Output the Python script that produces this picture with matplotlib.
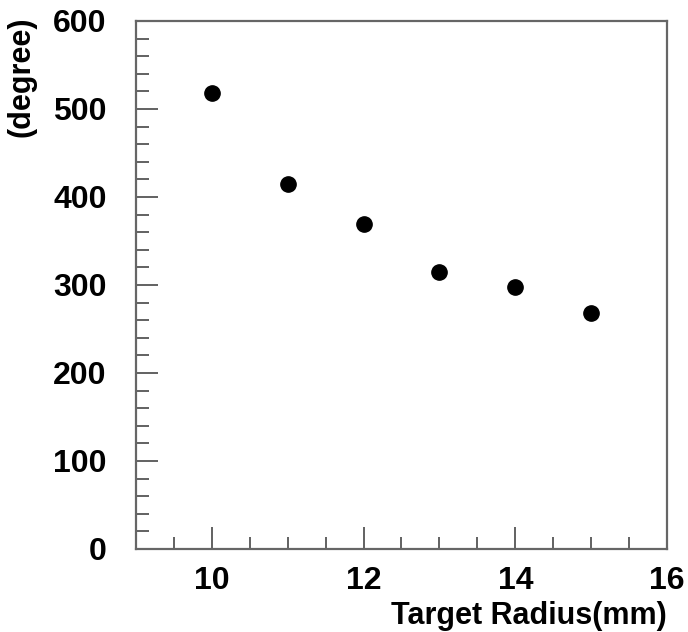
import matplotlib
matplotlib.use("Agg")
import matplotlib.pyplot as plt
from matplotlib.ticker import MultipleLocator

radius = [10, 11, 12, 13, 14, 15]
angle = [518, 415, 369, 315, 298, 268]

plt.rcParams['font.family'] = ['Liberation Sans', 'DejaVu Sans']

fig = plt.figure(figsize=(6.88, 6.32), dpi=100)
ax = fig.add_axes([136 / 688, 1 - 549 / 632, 531 / 688, 528 / 632])

ax.plot(radius, angle, 'o', color='black', markersize=11)

ax.set_xlim(9, 16)
ax.set_ylim(0, 600)
ax.xaxis.set_major_locator(MultipleLocator(2))
ax.xaxis.set_minor_locator(MultipleLocator(0.5))
ax.yaxis.set_major_locator(MultipleLocator(100))
ax.yaxis.set_minor_locator(MultipleLocator(20))

for s in ax.spines.values():
    s.set_color('#666666')
    s.set_linewidth(1.6)

ax.tick_params(which='both', direction='in', color='#555555', width=1.3,
               top=False, right=False)
ax.tick_params(which='major', length=16, labelsize=23)
ax.tick_params(axis='y', which='major', pad=21)
ax.tick_params(axis='x', which='major', pad=12)
ax.tick_params(which='minor', length=9)
for lab in ax.get_xticklabels() + ax.get_yticklabels():
    lab.set_fontweight('bold')

ax.set_xlabel('Target Radius(mm)', fontsize=22, fontweight='bold', loc='right', labelpad=4)
ax.set_ylabel('(degree)', fontsize=22, fontweight='bold', loc='top')
ax.yaxis.set_label_coords(-0.188, 1.008)

fig.savefig('out.png', dpi=100)
